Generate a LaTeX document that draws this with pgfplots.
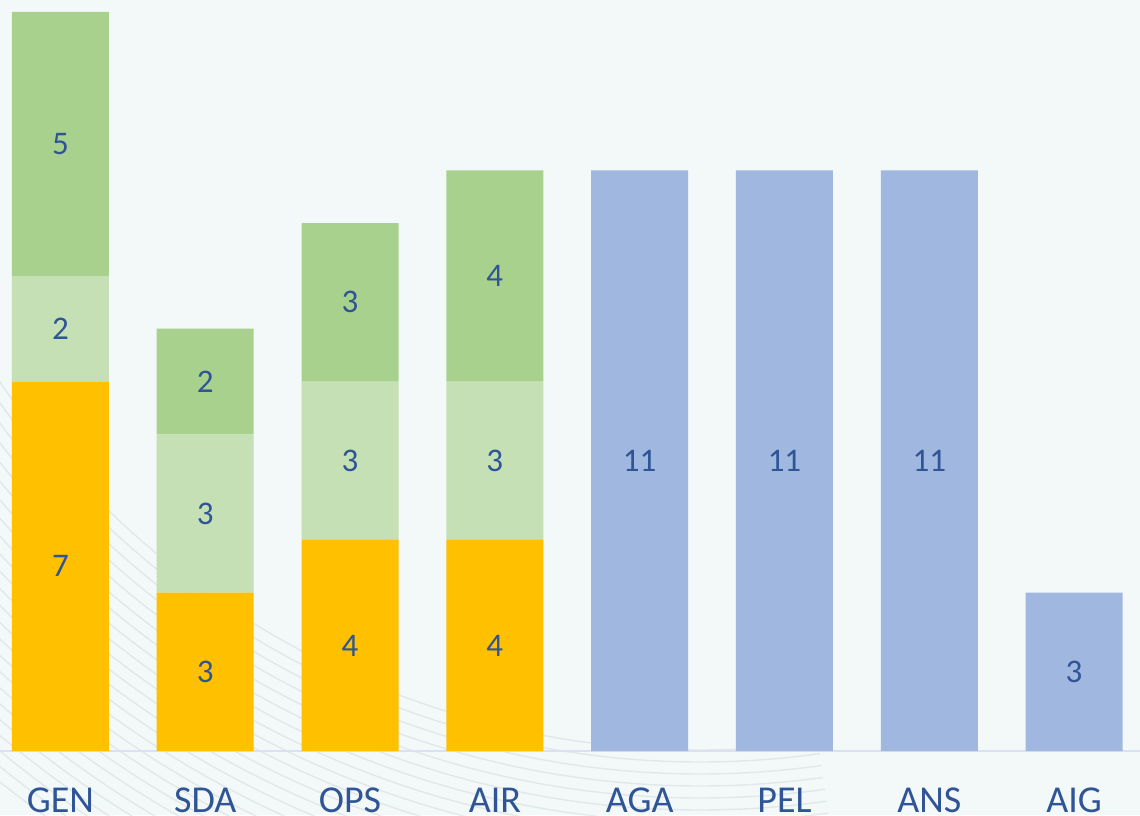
\documentclass[border=0pt]{standalone}
\usepackage{pgfplots}
\usepackage{pgfplotstable}
\pgfplotsset{compat=1.18}
\usepackage{fontspec}
\setmainfont{Carlito}
\definecolor{bgc}{HTML}{F3F8F9}
\definecolor{yel}{HTML}{FFC000}
\definecolor{lgr}{HTML}{C5E0B4}
\definecolor{grn}{HTML}{A9D18E}
\definecolor{blu}{HTML}{A0B7E0}
\definecolor{txt}{HTML}{2F5597}
\definecolor{axl}{HTML}{D9E2F3}
\definecolor{wave}{HTML}{C9CED3}

\pgfplotstableread{
x yel lgr grn blu
0 7 2 5 0
1 3 3 2 0
2 4 3 3 0
3 4 3 4 0
4 0 0 0 11
5 0 0 0 11
6 0 0 0 11
7 0 0 0 3
}\bars

\pgfplotstableread{
x y lab
0 3.5 7
0 8 2
0 11.5 5
1 1.5 3
1 4.5 3
1 7 2
2 2 4
2 5.5 3
2 8.5 3
3 2 4
3 5.5 3
3 9 4
4 5.5 11
5 5.5 11
6 5.5 11
7 1.5 3
}\labels

\begin{document}
\begin{tikzpicture}
\useasboundingbox (0,0) rectangle (570pt,407.5pt);
\fill[bgc] (0,0) rectangle (570pt,407.5pt);
\begin{scope}
\clip (0,0) rectangle (570pt,407.5pt);
\foreach \r in {425,431,...,565} {
  \draw[wave, opacity=0.4, line width=0.7pt] (350pt,457.5pt) ++(180:\r pt) arc[start angle=180, end angle=278, radius=\r pt];
}
\end{scope}
\begin{axis}[
  at={(-6pt,32pt)}, anchor=south west,
  scale only axis, width=579.25pt, height=369.5pt,
  xmin=-0.5, xmax=7.5, ymin=0, ymax=14,
  ybar stacked, bar width=0.67,
  axis y line=none,
  axis x line*=bottom,
  x axis line style={-, draw=axl, line width=1.2pt},
  xtick={0,...,7},
  xticklabels={GEN,SDA,OPS,AIR,AGA,PEL,ANS,AIG},
  xtick style={draw=none},
  major tick length=0pt,
  xticklabel style={anchor=base, yshift=-30.5pt, font=\fontsize{19}{23}\selectfont, text=txt},
  clip=false,
]
\addplot[fill=yel, draw=none] table[x=x, y=yel] {\bars};
\addplot[fill=lgr, draw=none] table[x=x, y=lgr] {\bars};
\addplot[fill=grn, draw=none] table[x=x, y=grn] {\bars};
\addplot[fill=blu, draw=none] table[x=x, y=blu] {\bars};
\end{axis}
\begin{axis}[
  at={(-6pt,32pt)}, anchor=south west,
  scale only axis, width=579.25pt, height=369.5pt,
  xmin=-0.5, xmax=7.5, ymin=0, ymax=14,
  hide axis, clip=false,
]
\addplot[draw=none, mark=none, nodes near coords, point meta=explicit symbolic,
  every node near coord/.append style={anchor=center, text=txt, font=\fontsize{16.5}{20}\selectfont}]
  table[x=x, y=y, meta=lab] {\labels};
\end{axis}
\end{tikzpicture}
\end{document}
